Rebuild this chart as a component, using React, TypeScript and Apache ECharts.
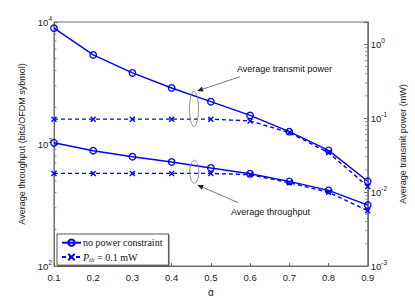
import React, { useEffect, useRef } from "react";
import * as echarts from "echarts";

const alpha = [0.1, 0.2, 0.3, 0.4, 0.5, 0.6, 0.7, 0.8, 0.9];
const throughputNoConstraint = [1023, 881, 787, 712, 636, 571, 494, 417, 316];
const throughputConstrained = [574, 574, 574, 574, 574, 560, 482, 402, 284];
const powerNoConstraint = [1.65, 0.718, 0.409, 0.256, 0.167, 0.109, 0.0657, 0.0367, 0.014];
const powerConstrained = [0.097, 0.097, 0.097, 0.097, 0.097, 0.0917, 0.0638, 0.0342, 0.0119];

const leftMinorTicks = [200, 300, 400, 500, 600, 700, 800, 900, 2000, 3000, 4000, 5000, 6000, 7000, 8000, 9000];
const rightMinorTicks = [
  0.002, 0.003, 0.004, 0.005, 0.006, 0.007, 0.008, 0.009,
  0.02, 0.03, 0.04, 0.05, 0.06, 0.07, 0.08, 0.09,
  0.2, 0.3, 0.4, 0.5, 0.6, 0.7, 0.8, 0.9, 2,
];

const NAME_SOLID = "no power constraint";
const NAME_DASHED = "P_th = 0.1 mW";

const SANS = "'Liberation Sans', Arial, sans-serif";
const SERIF = "'Liberation Serif', 'DejaVu Serif', serif";
const BLUE = "#0000ff";
const AXIS = "#6e6e6e";

const pair = (ys: number[]) => alpha.map((a, i) => [a, ys[i]]);

const supFormatter = (v: number) => {
  const e = Math.log10(v);
  if (Math.abs(e - Math.round(e)) > 1e-6) return "";
  return `{b|10}{s|${Math.round(e)}}`;
};

const labelRich = {
  b: { fontSize: 9.5, fontFamily: SANS, color: "#222" },
  s: { fontSize: 6.5, fontFamily: SANS, color: "#222", verticalAlign: "bottom", padding: [0, 0, 7, 0] },
};

const circleItem = { color: "none", borderColor: BLUE, borderWidth: 1.3 };
const crossSymbol = "path://M0,0L10,10M10,0L0,10";

export default function App() {
  const ref = useRef<HTMLDivElement>(null);
  useEffect(() => {
    if (!ref.current) return;
    const chart = echarts.init(ref.current, undefined, { renderer: "svg" });

    const tickSeries = (vals: number[], axisIdx: number, xv: number, dir: number) => ({
      type: "custom",
      yAxisIndex: axisIdx,
      silent: true,
      z: 1,
      data: vals.map((v) => [xv, v]),
      renderItem: (params: any, api: any) => {
        const p = api.coord([api.value(0), api.value(1)]);
        return {
          type: "line",
          shape: { x1: p[0], y1: p[1], x2: p[0] + dir * 2.5, y2: p[1] },
          style: { stroke: AXIS, lineWidth: 0.8 },
        };
      },
    });

    const option: any = {
      animation: false,
      backgroundColor: "#fff",
      grid: { left: 54, right: 38, top: 22, bottom: 40, show: true, borderColor: AXIS, borderWidth: 1 },
      xAxis: {
        type: "value",
        min: 0.1,
        max: 0.9,
        interval: 0.1,
        name: "α",
        nameLocation: "middle",
        nameGap: 21,
        nameTextStyle: { fontSize: 10, fontFamily: SANS, color: "#222" },
        axisLine: { lineStyle: { color: AXIS } },
        axisTick: { inside: true, length: 3, lineStyle: { color: AXIS } },
        axisLabel: { formatter: (v: number) => v.toFixed(1), fontSize: 9.5, fontFamily: SANS, color: "#222", margin: 6 },
        splitLine: { show: false },
      },
      yAxis: [
        {
          type: "log",
          logBase: 10,
          min: 100,
          max: 10000,
          name: "Average throughput (bits/OFDM sybmol)",
          nameLocation: "middle",
          nameGap: 19,
          nameTextStyle: { fontSize: 9, fontFamily: SANS, color: "#222" },
          axisLine: { show: true, lineStyle: { color: AXIS } },
          axisTick: { inside: true, length: 4, lineStyle: { color: AXIS } },
          axisLabel: { formatter: supFormatter, rich: labelRich, margin: 2 },
          splitLine: { show: false },
        },
        {
          type: "log",
          logBase: 10,
          min: 0.001,
          max: 2,
          position: "right",
          name: "Average transmit power (mW)",
          nameLocation: "middle",
          nameGap: 22,
          nameTextStyle: { fontSize: 9, fontFamily: SANS, color: "#222" },
          axisLine: { show: true, lineStyle: { color: AXIS } },
          axisTick: { inside: true, length: 4, lineStyle: { color: AXIS } },
          axisLabel: { formatter: supFormatter, rich: labelRich, margin: 3 },
          splitLine: { show: false },
        },
      ],
      legend: {
        data: [NAME_SOLID, NAME_DASHED],
        orient: "vertical",
        left: 57,
        top: 234,
        padding: [3, 6, 2, 4],
        itemGap: 3,
        itemWidth: 19,
        itemHeight: 8,
        backgroundColor: "#fff",
        borderColor: "#555",
        borderWidth: 1,
        shadowColor: "rgba(0,0,0,0.35)",
        shadowOffsetX: 1,
        shadowOffsetY: 1,
        shadowBlur: 0,
        textStyle: {
          fontFamily: SERIF,
          fontSize: 10,
          color: "#111",
          padding: [0, 0, 0, -3],
          rich: {
            i: { fontFamily: SERIF, fontStyle: "italic", fontSize: 10, color: "#111" },
            sub: { fontFamily: SERIF, fontStyle: "italic", fontSize: 7, color: "#111", verticalAlign: "top", padding: [5, 0, 0, 0] },
            t: { fontFamily: SERIF, fontSize: 10, color: "#111" },
          },
        },
        formatter: (name: string) => (name === NAME_DASHED ? "{i|P}{sub|th}{t| = 0.1 mW}" : `{t|${name}}`),
      },
      series: [
        {
          name: NAME_SOLID,
          type: "line",
          yAxisIndex: 0,
          data: pair(throughputNoConstraint),
          symbol: "circle",
          symbolSize: 6.5,
          itemStyle: circleItem,
          lineStyle: { color: BLUE, width: 1.4 },
          z: 3,
        },
        {
          name: NAME_DASHED,
          type: "line",
          yAxisIndex: 0,
          data: pair(throughputConstrained),
          symbol: crossSymbol,
          symbolSize: 5,
          itemStyle: { color: "none", borderColor: BLUE, borderWidth: 1.4 },
          lineStyle: { color: BLUE, width: 1.4, type: [4, 3] },
          z: 3,
        },
        {
          name: NAME_SOLID,
          type: "line",
          yAxisIndex: 1,
          data: pair(powerNoConstraint),
          symbol: "circle",
          symbolSize: 6.5,
          itemStyle: circleItem,
          lineStyle: { color: BLUE, width: 1.4 },
          z: 3,
        },
        {
          name: NAME_DASHED,
          type: "line",
          yAxisIndex: 1,
          data: pair(powerConstrained),
          symbol: crossSymbol,
          symbolSize: 5,
          itemStyle: { color: "none", borderColor: BLUE, borderWidth: 1.4 },
          lineStyle: { color: BLUE, width: 1.4, type: [4, 3] },
          z: 3,
        },
        tickSeries(leftMinorTicks, 0, 0.1, 1),
        tickSeries(rightMinorTicks, 1, 0.9, -1),
      ],
      graphic: [
        { type: "ellipse", shape: { cx: 194, cy: 109, rx: 4.5, ry: 17.5 }, style: { fill: "none", stroke: "#777", lineWidth: 0.8 }, z: 10 },
        { type: "ellipse", shape: { cx: 194.3, cy: 171.7, rx: 4.5, ry: 11.5 }, style: { fill: "none", stroke: "#777", lineWidth: 0.8 }, z: 10 },
        { type: "line", shape: { x1: 240, y1: 76.7, x2: 201, y2: 89.7 }, style: { stroke: "#555", lineWidth: 0.8 }, z: 10 },
        { type: "polygon", shape: { points: [[197, 91], [203.5, 91.5], [201.9, 86.7]] }, style: { fill: "#222" }, z: 10 },
        { type: "line", shape: { x1: 238.3, y1: 202.7, x2: 201, y2: 186.6 }, style: { stroke: "#555", lineWidth: 0.8 }, z: 10 },
        { type: "polygon", shape: { points: [[197.3, 185], [203.8, 185.1], [201.8, 189.7]] }, style: { fill: "#222" }, z: 10 },
        { type: "text", x: 237, y: 69, style: { text: "Average transmit power", fontSize: 9, fontFamily: SANS, fill: "#111", verticalAlign: "middle" }, z: 10 },
        { type: "text", x: 231, y: 212, style: { text: "Average throughput", fontSize: 9, fontFamily: SANS, fill: "#111", verticalAlign: "middle" }, z: 10 },
      ],
    };
    chart.setOption(option);
    return () => chart.dispose();
  }, []);
  return (
    <div
      ref={ref}
      style={{ position: "fixed", left: 0, top: 0, width: 415, height: 306, background: "#fff" }}
    />
  );
}
